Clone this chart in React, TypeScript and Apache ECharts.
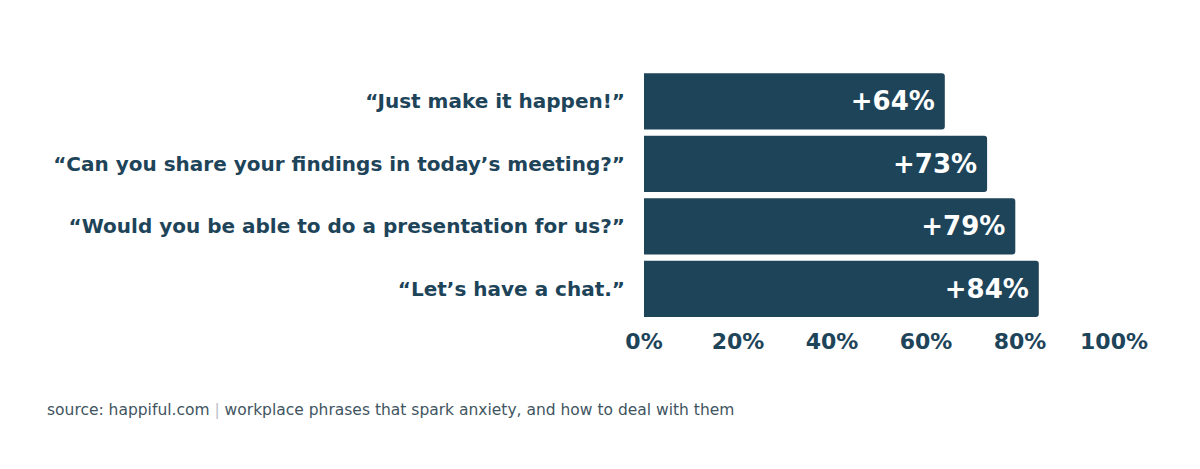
import React, { useEffect, useRef } from "react";
import * as echarts from "echarts";

const categories = [
  "“Just make it happen!”",
  "“Can you share your findings in today’s meeting?”",
  "“Would you be able to do a presentation for us?”",
  "“Let’s have a chat.”",
];
const values = [64, 73, 79, 84];
const xTicks = [0, 20, 40, 60, 80, 100];

const DARK = "#1e4459";
const FONT = "DejaVu Sans";

export default function App() {
  const ref = useRef<HTMLDivElement>(null);
  useEffect(() => {
    if (!ref.current) return;
    const chart = echarts.init(ref.current, null, { renderer: "svg" });
    chart.setOption({
      animation: false,
      backgroundColor: "#ffffff",
      grid: { left: 644, right: 86, top: 70, bottom: 149, containLabel: false },
      xAxis: {
        type: "value",
        min: 0,
        max: 100,
        interval: 20,
        axisLine: { show: false },
        axisTick: { show: false },
        splitLine: { show: false },
        axisLabel: {
          margin: 10,
          color: DARK,
          fontFamily: FONT,
          fontWeight: "bold",
          fontSize: 22,
          formatter: (v: number) => (xTicks.includes(v) ? v + "%" : ""),
        },
      },
      yAxis: {
        type: "category",
        inverse: true,
        data: categories,
        axisLine: { show: false },
        axisTick: { show: false },
        axisLabel: {
          margin: 19,
          color: DARK,
          fontFamily: FONT,
          fontWeight: "bold",
          fontSize: 20,
        },
      },
      series: [
        {
          type: "bar",
          data: values,
          barCategoryGap: "10%",
          itemStyle: { color: DARK, borderRadius: [0, 3, 3, 0] },
          label: {
            show: true,
            position: "insideRight",
            distance: 10,
            color: "#ffffff",
            fontFamily: FONT,
            fontWeight: "bold",
            fontSize: 26,
            formatter: (p: any) => "+" + p.value + "%",
          },
        },
      ],
      graphic: [
        {
          type: "text",
          left: 47,
          top: 402,
          style: {
            text: "{a|source: happiful.com }{b||}{a| workplace phrases that spark anxiety, and how to deal with them}",
            rich: {
              a: { fontFamily: FONT, fontSize: 15.5, fill: "#3f5561" },
              b: { fontFamily: FONT, fontSize: 15.5, fill: "#b8c2c8" },
            },
          },
        },
      ],
    });
    return () => chart.dispose();
  }, []);
  return (
    <div
      ref={ref}
      style={{ position: "fixed", left: 0, top: 0, width: 1200, height: 469 }}
    />
  );
}
